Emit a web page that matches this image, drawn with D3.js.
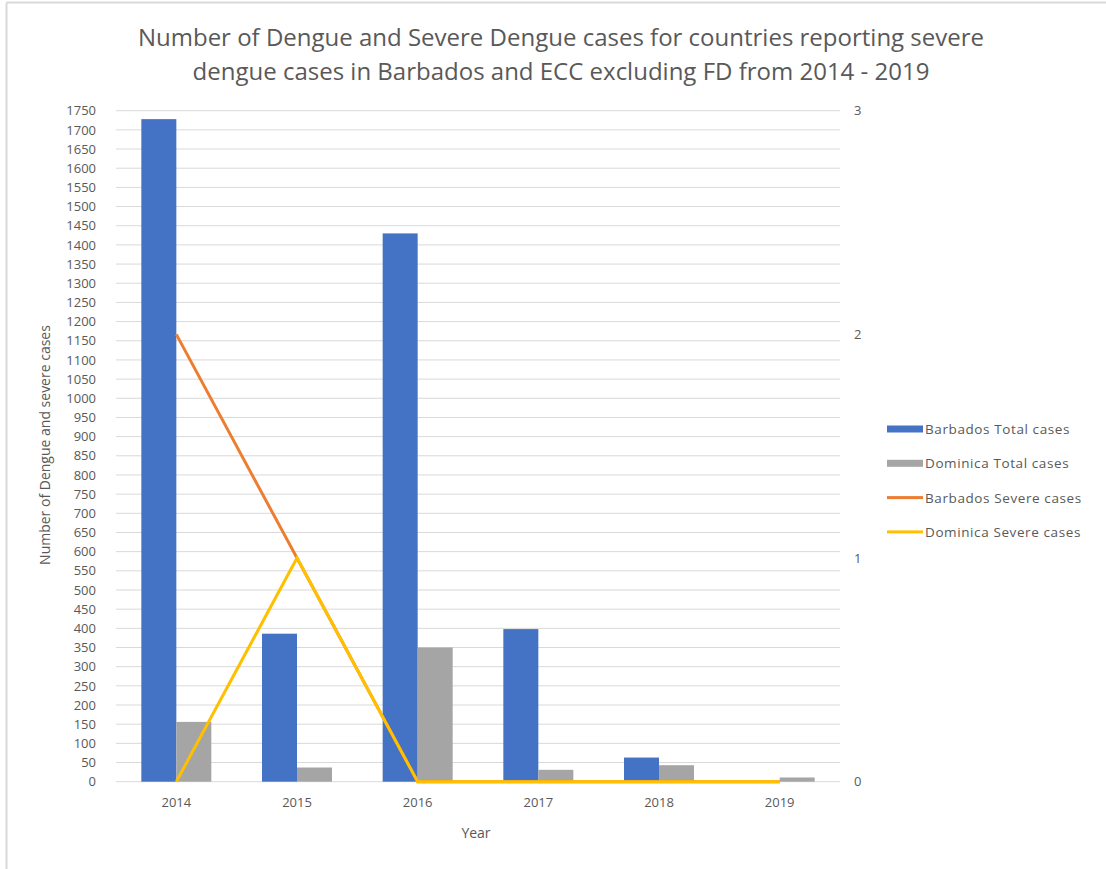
<!DOCTYPE html>
<html lang="en">
<head>
<meta charset="utf-8">
<title>Dengue cases</title>
<script src="https://d3js.org/d3.v7.min.js"></script>
<style>
  body { margin: 0; background: #fff; }
  svg text { font-family: "Liberation Sans Narrow", "Open Sans", Arial, sans-serif; fill: #595959; }
</style>
</head>
<body>
<div id="chart"></div>
<script>
// data
var years = ["2014", "2015", "2016", "2017", "2018", "2019"];
var barbadosTotal = [1728, 386, 1430, 398, 63, 0];
var dominicaTotal = [156, 37, 350, 31, 43, 11];
var barbadosSevere = [2, 1, 0, 0, 0, 0];
var dominicaSevere = [0, 1, 0, 0, 0, 0];
var leftTicks = d3.range(0, 1751, 50);
var rightTicks = [0, 1, 2, 3];

var W = 1106, H = 869;
var margin = {top: 110.7, left: 116, right: 266, bottom: 87.3};
var width = W - margin.left - margin.right,
    height = H - margin.top - margin.bottom;

var svg = d3.select("#chart").append("svg")
  .attr("width", W).attr("height", H);

// outer frame (only top + left edge are visible in the reference)
svg.append("line").attr("x1", 6.5).attr("x2", W).attr("y1", 2.5).attr("y2", 2.5)
  .style("stroke", "#d9d9d9").style("stroke-width", 2);
svg.append("line").attr("x1", 6.5).attr("x2", 6.5).attr("y1", 2.5).attr("y2", H)
  .style("stroke", "#d9d9d9").style("stroke-width", 2);

// title
var title = svg.append("text")
  .attr("text-anchor", "middle")
  .style("font-size", "24px");
title.append("tspan").attr("x", 561).attr("y", 46)
  .text("Number of Dengue and Severe Dengue cases for countries reporting severe");
title.append("tspan").attr("x", 561).attr("y", 80)
  .text("dengue cases in Barbados and ECC excluding FD from 2014 - 2019");

var g = svg.append("g")
  .attr("transform", "translate(" + margin.left + "," + margin.top + ")");

var x = d3.scaleBand().domain(years).range([0, width]);
var y = d3.scaleLinear().domain([0, 1750]).range([height, 0]);
var y2 = d3.scaleLinear().domain([0, 3]).range([height, 0]);

// gridlines
g.selectAll(".grid").data(leftTicks).enter().append("line")
  .attr("x1", 0).attr("x2", width)
  .attr("y1", function(d) { return y(d); })
  .attr("y2", function(d) { return y(d); })
  .style("stroke", "#d9d9d9").style("stroke-width", 1);

// left axis labels
var yAxis = g.append("g").call(d3.axisLeft(y).tickValues(leftTicks)
  .tickFormat(d3.format("d")).tickSize(0).tickPadding(20));
yAxis.select(".domain").remove();
yAxis.selectAll("text").style("font-size", "13px").style("fill", "#595959");

// right axis labels
var yAxis2 = g.append("g").attr("transform", "translate(" + width + ",0)")
  .call(d3.axisRight(y2).tickValues(rightTicks).tickFormat(d3.format("d")).tickSize(0).tickPadding(14));
yAxis2.select(".domain").remove();
yAxis2.selectAll("text").style("font-size", "13px").style("fill", "#595959");

// x axis labels
var xAxis = g.append("g").attr("transform", "translate(0," + height + ")")
  .call(d3.axisBottom(x).tickSize(0).tickPadding(16));
xAxis.select(".domain").remove();
xAxis.selectAll("text").style("font-size", "13px").style("fill", "#595959");

// bars
var barW = 35;
g.selectAll(".bar1").data(years).enter().append("rect")
  .attr("x", function(d) { return x(d) + x.bandwidth() / 2 - barW; })
  .attr("y", function(d, i) { return y(barbadosTotal[i]); })
  .attr("width", barW)
  .attr("height", function(d, i) { return height - y(barbadosTotal[i]); })
  .style("fill", "#4472c4");
g.selectAll(".bar2").data(years).enter().append("rect")
  .attr("x", function(d) { return x(d) + x.bandwidth() / 2; })
  .attr("y", function(d, i) { return y(dominicaTotal[i]); })
  .attr("width", barW)
  .attr("height", function(d, i) { return height - y(dominicaTotal[i]); })
  .style("fill", "#a5a5a5");

// lines on secondary axis
var line = d3.line()
  .x(function(d, i) { return x(years[i]) + x.bandwidth() / 2; })
  .y(function(d) { return y2(d); });
g.append("path").datum(barbadosSevere).attr("d", line)
  .style("fill", "none").style("stroke", "#ed7d31").style("stroke-width", 3);
g.append("path").datum(dominicaSevere).attr("d", line)
  .style("fill", "none").style("stroke", "#ffc000").style("stroke-width", 3);

// axis titles
svg.append("text").attr("x", 476).attr("y", 838).attr("text-anchor", "middle")
  .style("font-size", "14px").text("Year");
svg.append("text").attr("transform", "translate(50,445) rotate(-90)")
  .attr("text-anchor", "middle").style("font-size", "14px")
  .text("Number of Dengue and severe cases");

// legend
var legendItems = [
  {name: "Barbados Total cases", color: "#4472c4", type: "bar"},
  {name: "Dominica Total cases", color: "#a5a5a5", type: "bar"},
  {name: "Barbados Severe cases", color: "#ed7d31", type: "line"},
  {name: "Dominica Severe cases", color: "#ffc000", type: "line"}
];
var leg = svg.append("g").attr("transform", "translate(887,429)");
var li = leg.selectAll("g").data(legendItems).enter().append("g")
  .attr("transform", function(d, i) { return "translate(0," + (i * 34.3) + ")"; });
li.append("rect")
  .attr("x", 0).attr("width", 36)
  .attr("y", function(d) { return d.type === "bar" ? -3.5 : -1.5; })
  .attr("height", function(d) { return d.type === "bar" ? 7 : 3; })
  .style("fill", function(d) { return d.color; });
li.append("text").attr("x", 38).attr("y", 5)
  .style("font-size", "13.5px").style("letter-spacing", "0.6px")
  .text(function(d) { return d.name; });
</script>
</body>
</html>
